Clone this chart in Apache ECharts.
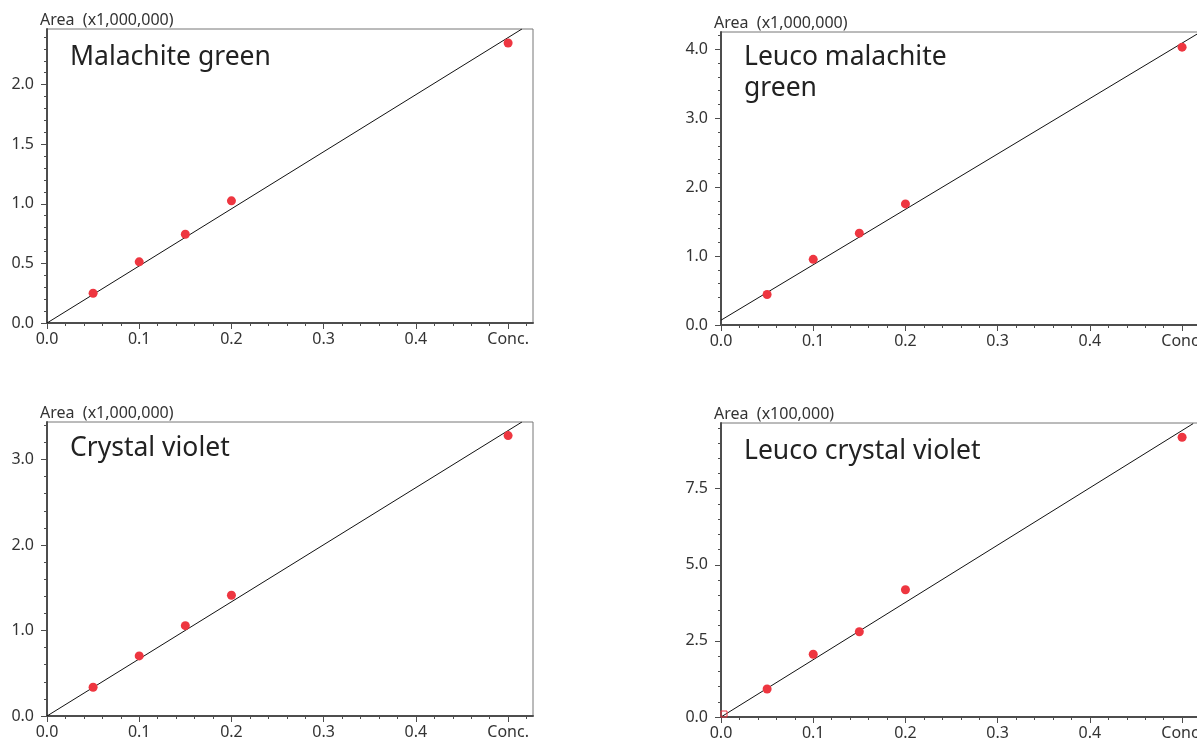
<!DOCTYPE html>
<html>
<head>
<meta charset="utf-8">
<script src="https://cdn.jsdelivr.net/npm/echarts@6/dist/echarts.min.js"></script>
<style>
html,body{margin:0;padding:0;background:#fff;}
#chart{width:1197px;height:742px;}
</style>
</head>
<body>
<div id="chart"></div>
<script>
// ---- data ----
const titles = ['Malachite green', 'Leuco malachite\ngreen', 'Crystal violet', 'Leuco crystal violet'];
const yNames = ['Area  (x1,000,000)', 'Area  (x1,000,000)', 'Area  (x1,000,000)', 'Area  (x100,000)'];
const conc = [0.05, 0.1, 0.15, 0.2, 0.5];
const mgArea = [0.25, 0.513, 0.745, 1.025, 2.35];
const lmgArea = [0.443, 0.952, 1.332, 1.756, 4.03];
const cvArea = [0.336, 0.703, 1.057, 1.413, 3.28];
const lcvArea = [0.92, 2.06, 2.80, 4.18, 9.19];
const lcvBlank = [[0, 0]];
const mgFit = [[0, 0], [0.515, 2.467]];
const lmgFit = [[0, 0.07], [0.52, 4.25]];
const cvFit = [[0, 0], [0.515, 3.439]];
const lcvFit = [[0, 0], [0.512, 9.64]];
const xTicks = [0, 0.1, 0.2, 0.3, 0.4, 0.5];
const xLastLabel = 'Conc.';
const yTicksMG = [0, 0.5, 1.0, 1.5, 2.0];
const yTicksLMG = [0, 1, 2, 3, 4];
const yTicksCV = [0, 1, 2, 3];
const yTicksLCV = [0, 2.5, 5.0, 7.5];
const xMax = 0.527;
const yMaxes = [2.467, 4.25, 3.439, 9.66];

// ---- layout ----
const grids = [
  {left: 47, top: 29, width: 486, height: 294},
  {left: 721, top: 32, width: 486, height: 293},
  {left: 47, top: 422, width: 486, height: 294},
  {left: 721, top: 423, width: 486, height: 294}
];
const titlePos = [
  {left: 70, top: 42},
  {left: 744, top: 42},
  {left: 70, top: 433},
  {left: 744, top: 436}
];
const yMajor = [yTicksMG, yTicksLMG, yTicksCV, yTicksLCV];
const yMinorStep = [0.1, 0.2, 0.2, 0.5];
const xMinorStep = 0.02;
const areas = [mgArea, lmgArea, cvArea, lcvArea];
const fits = [mgFit, lmgFit, cvFit, lcvFit];

function steps(step, max) {
  const out = [];
  for (let i = 0; i * step <= max + 1e-9; i++) out.push(Math.round(i * step * 1000) / 1000);
  return out;
}

const FONT = 'Noto Sans';
const AXIS_COLOR = '#4d4d4d';
const LABEL_COLOR = '#333';
const RED = '#ee3640';

const xAxes = [], yAxes = [], series = [], titleArr = [];
grids.forEach((g, i) => {
  xAxes.push({
    type: 'value', gridIndex: i, min: 0, max: xMax, position: 'bottom',
    axisLine: {show: true, onZero: false, lineStyle: {color: AXIS_COLOR, width: 2}},
    axisTick: {show: true, customValues: xTicks, length: 6, lineStyle: {color: AXIS_COLOR, width: 1}},
    axisLabel: {show: true, customValues: xTicks, margin: 8, color: LABEL_COLOR, fontFamily: FONT, fontSize: 16,
      hideOverlap: false,
      formatter: v => (Math.abs(v - 0.5) < 1e-9 ? xLastLabel : v.toFixed(1))},
    splitLine: {show: false}
  });
  xAxes.push({
    type: 'value', gridIndex: i, min: 0, max: xMax, position: 'bottom',
    axisLine: {show: false, onZero: false},
    axisTick: {show: true, customValues: steps(xMinorStep, xMax), length: 3, lineStyle: {color: AXIS_COLOR, width: 1}},
    axisLabel: {show: false},
    splitLine: {show: false}
  });
  yAxes.push({
    type: 'value', gridIndex: i, min: 0, max: yMaxes[i], position: 'left',
    name: yNames[i], nameLocation: 'end', nameGap: 1,
    nameTextStyle: {color: LABEL_COLOR, fontFamily: FONT, fontSize: 16, align: 'left', padding: [0, 0, 0, -7]},
    axisLine: {show: true, onZero: false, lineStyle: {color: AXIS_COLOR, width: 2}},
    axisTick: {show: true, customValues: yMajor[i], length: 6, lineStyle: {color: AXIS_COLOR, width: 1}},
    axisLabel: {show: true, customValues: yMajor[i], margin: 13, color: LABEL_COLOR, fontFamily: FONT, fontSize: 16,
      formatter: v => v.toFixed(1)},
    splitLine: {show: false}
  });
  yAxes.push({
    type: 'value', gridIndex: i, min: 0, max: yMaxes[i], position: 'left',
    axisLine: {show: false, onZero: false},
    axisTick: {show: true, customValues: steps(yMinorStep[i], yMaxes[i]), length: 3, lineStyle: {color: AXIS_COLOR, width: 1}},
    axisLabel: {show: false},
    splitLine: {show: false}
  });

  series.push({
    type: 'line', xAxisIndex: 2 * i, yAxisIndex: 2 * i, data: fits[i],
    symbol: 'none', lineStyle: {color: '#111', width: 1}, silent: true, z: 2
  });
  series.push({
    type: 'scatter', xAxisIndex: 2 * i, yAxisIndex: 2 * i,
    data: conc.map((c, k) => [c, areas[i][k]]),
    symbol: 'circle', symbolSize: 9, itemStyle: {color: RED, opacity: 1}, z: 3
  });

  titleArr.push({
    text: titles[i], left: titlePos[i].left, top: titlePos[i].top, padding: 0,
    textStyle: {fontFamily: FONT, fontSize: 26.5, fontWeight: 'normal', color: '#222', lineHeight: 31}
  });
});

series.push({
  type: 'scatter', xAxisIndex: 6, yAxisIndex: 6, data: lcvBlank,
  symbol: 'rect', symbolSize: 6, symbolOffset: [3, -3],
  itemStyle: {color: 'rgba(255,255,255,0)', borderColor: RED, borderWidth: 1, opacity: 1}, z: 3
});

const chart = echarts.init(document.getElementById('chart'), null, {renderer: 'canvas'});
chart.setOption({
  animation: false,
  backgroundColor: '#fff',
  title: titleArr,
  grid: grids.map(g => Object.assign({show: true, borderColor: '#777', borderWidth: 1, backgroundColor: 'transparent',
    containLabel: false, outerBoundsMode: 'none'}, g)),
  xAxis: xAxes,
  yAxis: yAxes,
  series: series
});
</script>
</body>
</html>
